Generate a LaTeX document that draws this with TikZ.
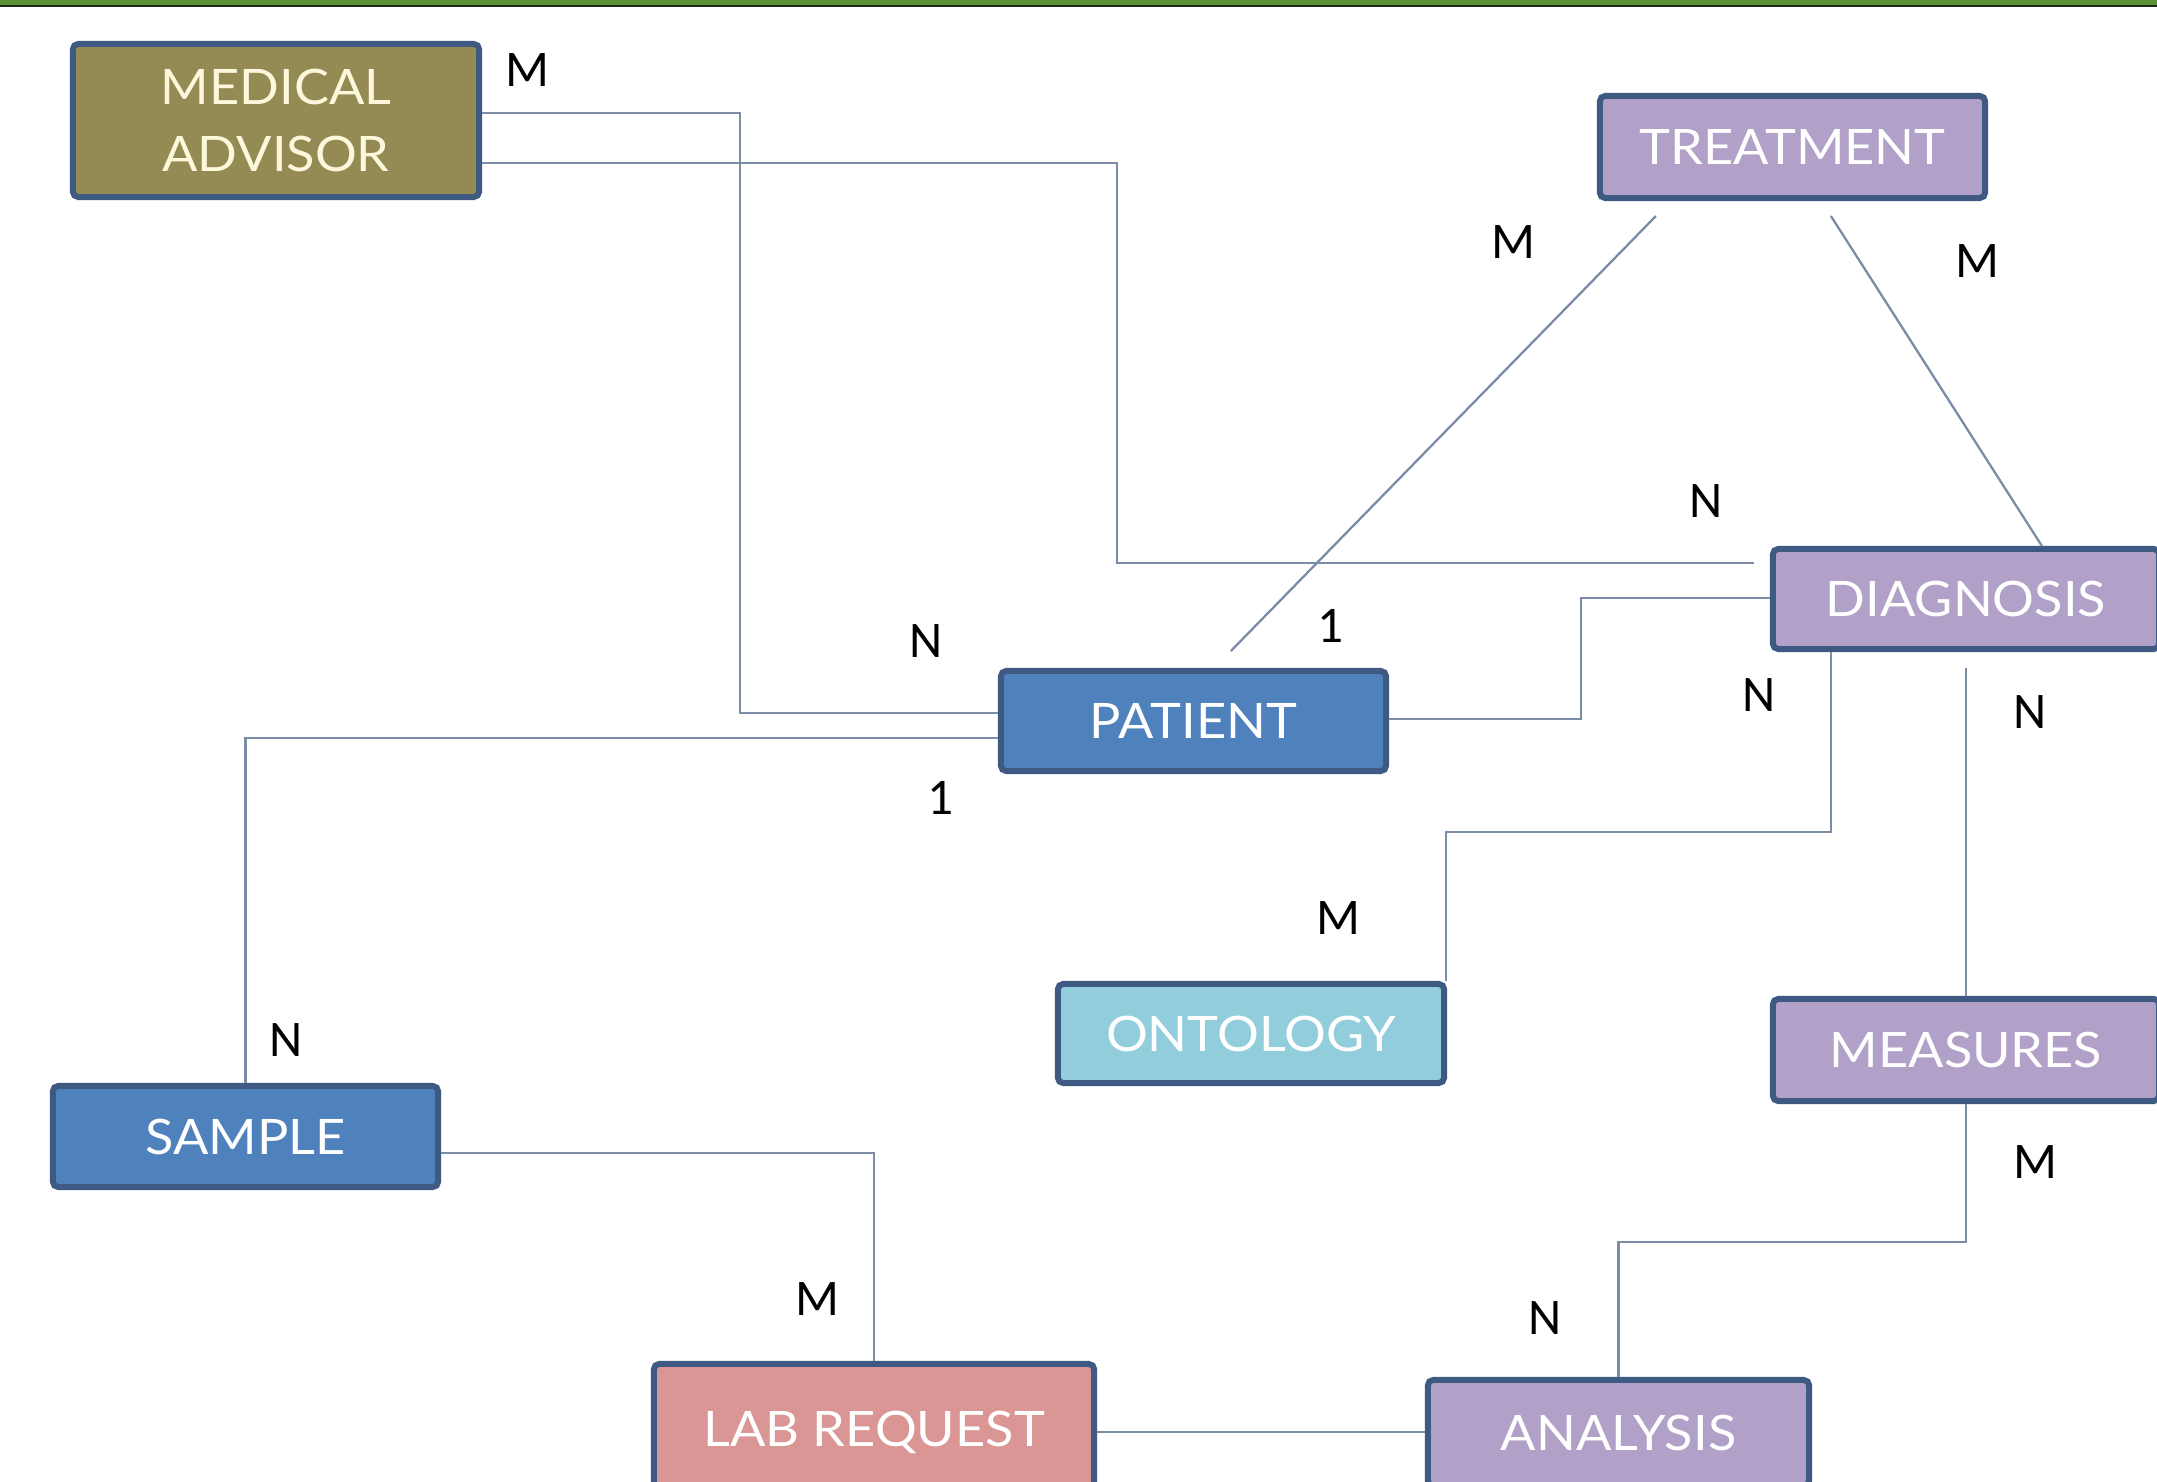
\documentclass[tikz,border=0pt]{standalone}
\usepackage{fontspec}
\setmainfont{Carlito}
\newfontfamily\boxfont[FakeStretch=1.07]{Lato}
\usetikzlibrary{calc}
\definecolor{topgreen}{HTML}{5A9236}
\definecolor{topdark}{HTML}{1C2A14}
\definecolor{bordc}{HTML}{3F5A82}
\definecolor{linec}{HTML}{7A8CA6}
\definecolor{olive}{HTML}{948A54}
\definecolor{lav}{HTML}{B1A0C7}
\definecolor{pblue}{HTML}{4F81BD}
\definecolor{cyanb}{HTML}{92CDDC}
\definecolor{rosec}{HTML}{D99694}
\definecolor{cream}{HTML}{FDF8DC}
\begin{document}
\begin{tikzpicture}[x=0.01cm,y=-0.01cm,
  ent/.style={draw=bordc, line width=1.7pt, rounded corners=1.5pt, inner sep=0pt,
    text=white, align=center, font=\boxfont\fontsize{13.9}{19.3}\selectfont},
  conn/.style={draw=linec, line width=0.65pt},
  card/.style={font=\fontsize{14.6}{16}\selectfont, text=black, inner sep=0pt}]
\useasboundingbox (0,0) rectangle (2157,1482);
\clip (0,0) rectangle (2157,1482);
\fill[white] (0,0) rectangle (2157,1482);
\fill[topgreen] (0,0) rectangle (2157,5);
\fill[topdark] (0,5) rectangle (2157,7);

% entities
\node[ent, fill=olive, text=cream, minimum width=4.06cm, minimum height=1.53cm] (adv) at (276,120.5) {MEDICAL\\ADVISOR};
\node[ent, fill=lav, minimum width=3.85cm, minimum height=1.02cm] (treat) at (1792.5,147) {TREATMENT};
\node[ent, fill=lav, minimum width=3.86cm, minimum height=1.0cm] (diag) at (1966,599) {DIAGNOSIS};
\node[ent, fill=pblue, minimum width=3.85cm, minimum height=1.0cm] (patient) at (1193.5,721) {PATIENT};
\node[ent, fill=cyanb, minimum width=3.86cm, minimum height=0.99cm] (onto) at (1251,1033.5) {ONTOLOGY};
\node[ent, fill=lav, minimum width=3.86cm, minimum height=1.02cm] (meas) at (1966,1050) {MEASURES};
\node[ent, fill=pblue, minimum width=3.85cm, minimum height=1.01cm] (sample) at (245.5,1136.5) {SAMPLE};
\node[ent, fill=rosec, minimum width=4.40cm, minimum height=1.36cm] (lab) at (874,1432) {LAB REQUEST};
\node[ent, fill=lav, minimum width=3.81cm, minimum height=1.06cm] (ana) at (1618.5,1433) {ANALYSIS};

% connectors
\draw[conn] ($(adv.east)+(0,-7.5)$) -| ($(patient.west)+(-258,-8)$) -- ($(patient.west)+(0,-8)$);
\draw[conn, shorten >=0.16cm] ($(adv.east)+(0,42.5)$) -| ($(diag.west)+(-653,-36)$) -- ($(diag.west)+(0,-36)$);
\draw[conn] ($(patient.east)+(0,-2)$) -| ($(diag.west)+(-189,-1)$) -- ($(diag.west)+(0,-1)$);
\draw[conn] ($(patient.west)+(0,17)$) -| (sample.north);
\draw[conn] ($(sample.east)+(0,16.5)$) -| (lab.north);
\draw[conn] (lab.east) -- (lab.east -| ana.west);
\draw[conn] (ana.north) |- ($(meas.south)+(0,138)$) -- (meas.south);
\draw[conn] (meas.north) -- ($(diag.south)+(0,16)$);
\draw[conn] ($(diag.south west)+(61,0)$) |- ($(onto.north east)+(-1,-149)$) -- ($(onto.north east)+(-1,0)$);
\draw[conn] ($(treat.south west)+(59,15)$) -- ($(patient.north west)+(233,-17)$);
\draw[conn] ($(treat.south west)+(234,15)$) -- ($(diag.north west)+(272,0)$);

% cardinalities
\node[card] (c1) at (527,70) {M};
\node[card] (c2) at (1513,242) {M};
\node[card] (c3) at (1977,261) {M};
\node[card] (c4) at (1706,501) {N};
\node[card] (c5) at (1330,626) {1};
\node[card] (c6) at (926,641) {N};
\node[card] (c7) at (941,798) {1};
\node[card] (c8) at (1759,695) {N};
\node[card] (c9) at (2030,712) {N};
\node[card] (c10) at (1338,918) {M};
\node[card] (c11) at (286,1040) {N};
\node[card] (c12) at (2035,1162) {M};
\node[card] (c13) at (817,1299) {M};
\node[card] (c14) at (1545,1318) {N};
\end{tikzpicture}
\end{document}
